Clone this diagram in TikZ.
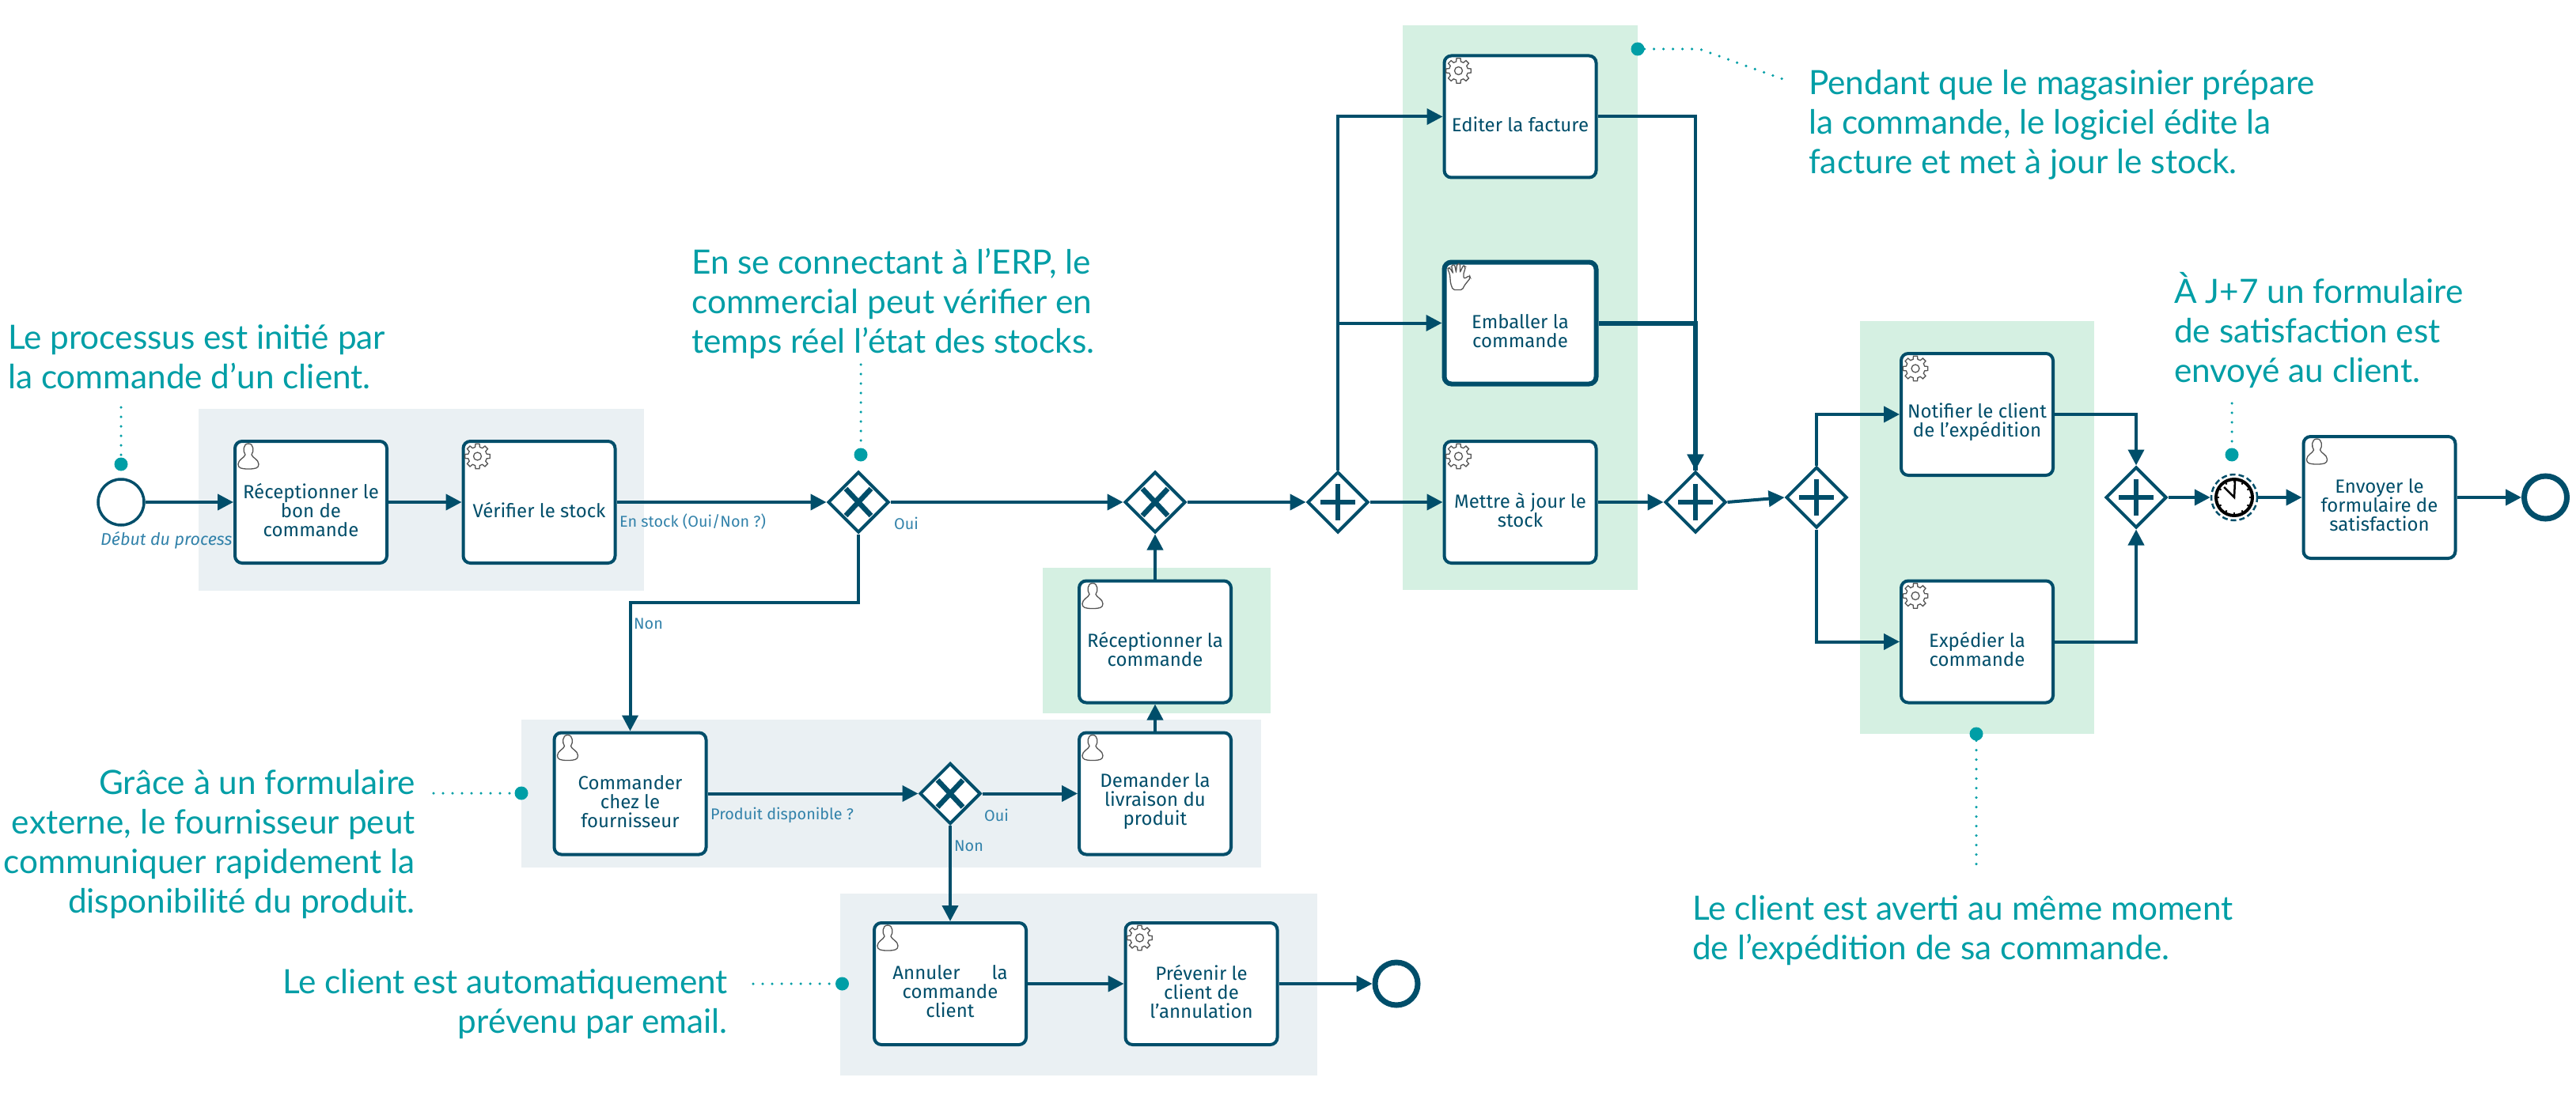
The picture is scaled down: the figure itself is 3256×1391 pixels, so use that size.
\documentclass[tikz,border=0pt]{standalone}
\usepackage{fontspec}
\setmainfont{Fira Sans}
\newfontfamily\notefont{Lato}
\usetikzlibrary{arrows.meta,shapes.geometric,calc}
\definecolor{flowblue}{RGB}{0,78,106}
\definecolor{labelblue}{RGB}{50,130,170}
\definecolor{noteteal}{RGB}{0,158,166}
\definecolor{panelgrey}{RGB}{234,240,243}
\definecolor{panelgreen}{RGB}{213,240,226}
\definecolor{icongrey}{RGB}{85,85,85}
\tikzset{
  taskbox/.style={draw=flowblue,fill=white,line width=4pt,rounded corners=9pt,minimum width=192pt,minimum height=154pt,inner sep=0pt,text=flowblue,font=\fontsize{24}{24}\selectfont},
  gatebox/.style={diamond,aspect=1,draw=flowblue,fill=white,line width=4pt,minimum width=77pt,minimum height=77pt,inner sep=0pt},
  gatemark/.style={draw=flowblue,line width=6.5pt},
  flow/.style={draw=flowblue,line width=4pt,-{Triangle[length=20pt,width=20pt]}},
  thickflow/.style={draw=flowblue,line width=6pt},
  startev/.style={circle,draw=flowblue,fill=white,line width=3.5pt,minimum size=58pt,inner sep=0pt},
  endev/.style={circle,draw=flowblue,fill=white,line width=7pt,minimum size=54pt,inner sep=0pt},
  flowlabel/.style={text=labelblue,font=\fontsize{19.8}{22}\selectfont,inner sep=0pt,anchor=west},
  notetext/.style={text=noteteal,inner sep=0pt,font=\notefont\fontsize{42.3}{50}\selectfont},
  notedot/.style={circle,fill=noteteal,minimum size=17pt,inner sep=0pt},
  notedots/.style={draw=noteteal,line width=3.5pt,line cap=round,dash pattern=on 0pt off 12pt},
  iconline/.style={draw=icongrey,line width=1.3pt,fill=white},
}
\newcommand{\usericon}[1]{\draw[iconline,shift={($(#1.north west)+(19,21)$)}]
  (0,-16) .. controls (-7,-16) and (-7,-6) .. (-4,-2) .. controls (-5,2) and (-13,4) .. (-13,10)
  .. controls (-13,15) and (-9,16) .. (0,16) .. controls (9,16) and (13,15) .. (13,10)
  .. controls (13,4) and (5,2) .. (4,-2) .. controls (7,-6) and (7,-16) .. (0,-16) -- cycle;}
\newcommand{\gearicon}[1]{\begin{scope}[shift={($(#1.north west)+(20,21)$)}]
  \draw[iconline] (-9:16) \foreach \a in {0,45,...,315} { -- ({\a-9}:16) -- ({\a+9}:16) -- ({\a+14}:12) -- ({\a+31}:12) } -- cycle;
  \draw[iconline] (0,0) circle (5);
  \end{scope}}
\newcommand{\handicon}[1]{\begin{scope}[shift={($(#1.north west)+(20,23)$)}]
  \draw[iconline,rounded corners=2pt] (-10,-5) -- (-13,-12) -- (-10,-13) -- (-6,-6) -- (-8,-16) -- (-4,-17) -- (-2,-7) -- (-1,-18) -- (3,-18) -- (3,-7) -- (7,-16) -- (10,-14) -- (7,-4) -- (8,1) -- (15,-3) -- (16,0) -- (8,10) -- (6,15) -- (-6,15) -- (-9,7) -- cycle;
  \end{scope}}
\newcommand{\taskat}[4]{\node[taskbox] (#1) at (#2,#3) {\raisebox{-16pt}[0pt][0pt]{\parbox[c]{186pt}{\centering #4}}};}
\newcommand{\gatex}[3]{\node[gatebox] (#1) at (#2,#3) {};
  \draw[gatemark,shift={(#1.center)}] (-16,-17) -- (16,17) (-16,17) -- (16,-17);}
\newcommand{\gateplus}[3]{\node[gatebox] (#1) at (#2,#3) {};
  \draw[gatemark,shift={(#1.center)}] (-22,0) -- (22,0) (0,-23) -- (0,23);}
\begin{document}
\begin{tikzpicture}[x=1pt,y=-1pt]
\useasboundingbox (0,0) rectangle (3256,1391);
% panels
\fill[panelgrey] (251,517) rectangle (814,747);
\fill[panelgrey] (659,910) rectangle (1594,1097);
\fill[panelgrey] (1062,1130) rectangle (1665,1360);
\fill[panelgreen] (1318,718) rectangle (1606,902);
\fill[panelgreen] (1773,32) rectangle (2070,746);
\fill[panelgreen] (2351,406) rectangle (2647,928);
% start label, hidden in part by the first task
\node[flowlabel,font=\itshape\fontsize{21.5}{24}\selectfont] (lstart) at (127,683) {Début du processus};
% events
\node[startev] (start) at (153,635) {};
\node[endev] (endA) at (3217.5,629) {};
\node[endev] (endB) at (1765,1244) {};
% tasks
\taskat{t1}{393}{635}{Réceptionner le\\bon de\\commande}
\taskat{t2}{681.5}{635}{Vérifier le stock}
\taskat{t3}{796.5}{1003.5}{Commander\\chez le\\fournisseur}
\taskat{t4}{1460}{1003.5}{Demander la\\livraison du\\produit}
\taskat{t5}{1460}{811.5}{Réceptionner la\\commande}
\taskat{t6}{1201}{1244}{Annuler\hspace{40pt}la\\commande\\client}
\taskat{t7}{1518.5}{1244}{Prévenir le\\client de\\l'annulation}
\taskat{t8}{1921.5}{147.5}{Editer la facture}
\node[taskbox,line width=6pt] (t9) at (1921.5,408.5) {\raisebox{-16pt}[0pt][0pt]{\parbox[c]{186pt}{\centering Emballer la\\commande}}};
\taskat{t10}{1921.5}{635}{Mettre à jour le\\stock}
\taskat{t11}{2499}{524}{Notifier le client\\de l'expédition}
\taskat{t12}{2499}{811.5}{Expédier la\\commande}
\taskat{t13}{3007.5}{629}{Envoyer le\\formulaire de\\satisfaction}
\usericon{t1}\usericon{t3}\usericon{t4}\usericon{t5}\usericon{t6}\usericon{t13}
\gearicon{t2}\gearicon{t7}\gearicon{t8}\gearicon{t10}\gearicon{t11}\gearicon{t12}
\handicon{t9}
% gateways
\gatex{g1}{1085}{635}
\gatex{g2}{1460}{635}
\gateplus{g3}{1691}{635}
\gateplus{g4}{2143}{635}
\gateplus{g5}{2296}{629}
\gateplus{g6}{2700}{629}
\gatex{g7}{1201}{1003.5}
% timer event
\node[circle,draw=flowblue,fill=white,line width=2.5pt,dash pattern=on 7pt off 4pt,minimum size=58pt,inner sep=0pt] (timer) at (2824,629) {};
\draw[black,fill=white,line width=4pt] (timer.center) circle (23);
\foreach \a in {0,30,...,330} \draw[black,line width=2pt,shift={(timer.center)}] (\a:19) -- (\a:22);
\draw[black,line width=2.5pt,shift={(timer.center)}] (-13,-13) -- (0,0) -- (1,-22);
% connectors
\draw[flow] (start) -- (t1);
\draw[flow] (t1) -- (t2);
\draw[flow] (t2) -- (g1);
\draw[flow] (g1) -- (g2);
\draw[flow] (g2) -- (g3);
\draw[flow] (g3) -- (t10);
\draw[flow] (t10) -- (g4);
\draw[flow] (g3.north) |- (t8.west);
\draw[flow] (g3.north) |- (t9.west);
\coordinate (nonbend) at (0,762);
\draw[flow] (g1.south) -- (g1.south |- nonbend) -- (t3.north |- nonbend) -- (t3.north);
\draw[flow] (t3) -- (g7);
\draw[flow] (g7) -- (t4);
\draw[flow] (t4) -- (t5);
\draw[flow] (t5) -- (g2);
\draw[flow] (g7) -- (t6);
\draw[flow] (t6) -- (t7);
\draw[flow] (t7) -- (endB);
\draw[flow] (t8.east) -| (g4.north);
\draw[thickflow] (t9.east) -| (g4.north);
\draw[flow,line width=6pt] ($(g4.north)+(0,-30)$) -- (g4.north);
\draw[flow] (g4.east) -- (g5.west);
\draw[flow] (g5.north) |- (t11.west);
\draw[flow] (g5.south) |- (t12.west);
\draw[flow] (t11.east) -| (g6.north);
\draw[flow] (t12.east) -| (g6.south);
\draw[flow] (g6) -- (timer);
\draw[flow] (timer) -- (t13);
\draw[flow] (t13) -- (endA);
% flow labels
\node[flowlabel] (l1) at (783,660) {En stock (Oui/Non ?)};
\node[flowlabel] (l2) at (1130,662) {Oui};
\node[flowlabel] (l3) at (801,789) {Non};
\node[flowlabel] (l4) at (898,1031) {Produit disponible ?};
\node[flowlabel] (l5) at (1244,1031) {Oui};
\node[flowlabel] (l6) at (1206,1070) {Non};
% notes
\node[notetext,anchor=west,align=left] (n1) at (10,451) {Le processus est initié par\\la commande d’un client.};
\node[notetext,anchor=west,align=left] (n2) at (874,384) {En se connectant à l’ERP, le\\commercial peut vérifier en\\temps réel l’état des stocks.};
\node[notetext,anchor=west,align=left] (n3) at (2286,158) {Pendant que le magasinier prépare\\la commande, le logiciel édite la\\facture et met à jour le stock.};
\node[notetext,anchor=west,align=left] (n4) at (2748,418) {À J+7 un formulaire\\de satisfaction est\\envoyé au client.};
\node[notetext,anchor=east,align=right] (n5) at (525,1068) {Grâce à un formulaire\\externe, le fournisseur peut\\communiquer rapidement la\\disponibilité du produit.};
\node[notetext,anchor=east,align=right] (n6) at (920,1270) {Le client est automatiquement\\prévenu par email.};
\node[notetext,anchor=west,align=left] (n7) at (2139,1177) {Le client est averti au même moment\\de l’expédition de sa commande.};
% note dots and dotted leaders
\node[notedot] (d1) at (153,587) {};
\node[notedot] (d2) at (1088,575) {};
\node[notedot] (d3) at (2070,62) {};
\node[notedot] (d4) at (2821,575) {};
\node[notedot] (d5) at (659,1003) {};
\node[notedot] (d6) at (1064.5,1244) {};
\node[notedot] (d7) at (2498,928) {};
\coordinate (e1) at (153,515);
\coordinate (e2) at (1088,461);
\coordinate (e3a) at (2148,62);
\coordinate (e3b) at (2256,101);
\coordinate (e4) at (2821,510);
\coordinate (e5) at (548,1003);
\coordinate (e6) at (952,1244);
\coordinate (e7) at (2498,1100);
\draw[notedots] (e1) -- (d1);
\draw[notedots] (e2) -- (d2);
\draw[notedots] (d3) -- (e3a) -- (e3b);
\draw[notedots] (e4) -- (d4);
\draw[notedots] (e5) -- (d5);
\draw[notedots] (e6) -- (d6);
\draw[notedots] (d7) -- (e7);
\end{tikzpicture}
\end{document}
